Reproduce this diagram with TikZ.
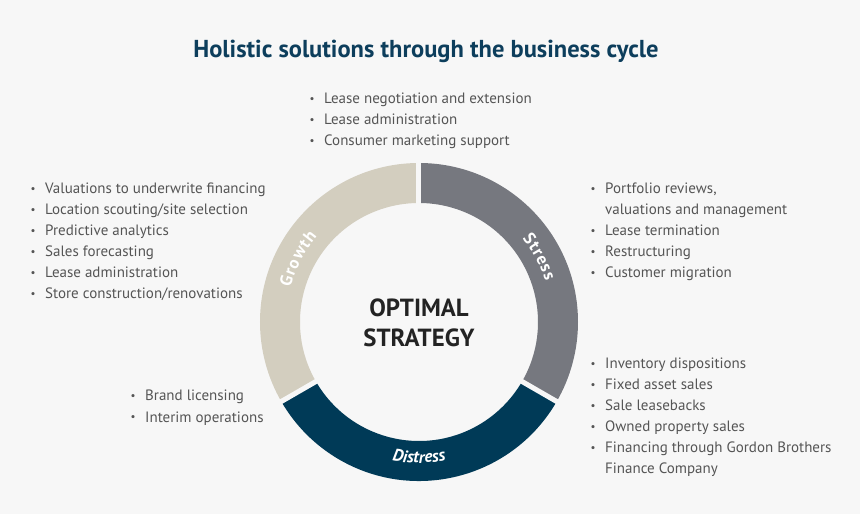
\documentclass[tikz,border=0pt]{standalone}
\usepackage{fontspec}
\setmainfont{PT Sans}
\usetikzlibrary{decorations.text}
\definecolor{bgcol}{HTML}{F7F7F7}
\definecolor{titlecol}{HTML}{0D3E5C}
\definecolor{textcol}{HTML}{555555}
\definecolor{growthcol}{HTML}{D3CEBF}
\definecolor{stresscol}{HTML}{76787F}
\definecolor{distresscol}{HTML}{003A57}
\definecolor{centercol}{HTML}{232323}
\newcommand{\bul}{\makebox[0pt]{\raisebox{.2ex}{\fontsize{11}{11}\selectfont\textbullet}}\hspace{12pt}}
\newcommand{\cont}{\hspace{12pt}}
\begin{document}
\begin{tikzpicture}[
    x=1pt, y=1pt,
    itemlist/.style={anchor=base west, inner sep=0pt, text=textcol, font=\fontsize{15}{21}\selectfont},
    ringlabel/.style={decorate, decoration={text along path, text align=center, text color=white}},
    gap/.style={draw=bgcol, line width=5pt}
]
\fill[bgcol] (-419,-192) rectangle (441,322);
\useasboundingbox (-419,-192) rectangle (441,322);
% Title
\node[anchor=base, inner sep=0pt, text=titlecol, font=\fontsize{24.5}{28}\selectfont\bfseries] (title) at (7,264.3) {Holistic solutions through the business cycle};
% Ring segments
\fill[growthcol] (90:159pt) arc[start angle=90, end angle=210, radius=159pt] -- (210:119pt) arc[start angle=210, end angle=90, radius=119pt] -- cycle;
\fill[stresscol] (90:159pt) arc[start angle=90, end angle=-30, radius=159pt] -- (-30:119pt) arc[start angle=-30, end angle=90, radius=119pt] -- cycle;
\fill[distresscol] (-30:159pt) arc[start angle=-30, end angle=-150, radius=159pt] -- (-150:119pt) arc[start angle=-150, end angle=-30, radius=119pt] -- cycle;
\foreach \a in {90,-30,210}
    \draw[gap] (\a:110pt) -- (\a:168pt);
% Ring labels
\path[ringlabel, decoration={text={|\fontsize{17}{17}\selectfont\bfseries|G{\kern1pt}r{\kern1pt}o{\kern1pt}w{\kern1pt}t{\kern1pt}h}}] (185:133pt) arc[start angle=185, end angle=120, radius=133pt];
\path[ringlabel, decoration={text={|\fontsize{17}{17}\selectfont\bfseries|S{\kern1pt}t{\kern1pt}r{\kern1pt}e{\kern1pt}s{\kern1pt}s}}] (61:133pt) arc[start angle=61, end angle=-4, radius=133pt];
\path[ringlabel, decoration={text={|\fontsize{17}{17}\selectfont\bfseries\itshape|Distress}}] (240:141pt) arc[start angle=240, end angle=300, radius=141pt];
% Centre
\node[anchor=base, inner sep=0pt, text=centercol, font=\fontsize{24.8}{30}\selectfont\bfseries] (optimal) at (0,5.3) {OPTIMAL};
\node[anchor=base, inner sep=0pt, text=centercol, font=\fontsize{24.8}{30}\selectfont\bfseries] (strategy) at (0,-24.7) {STRATEGY};
% Service lists
\node[itemlist] (toplist) at (-107,218) {\begin{tabular}[t]{@{}l@{}}
\bul Lease negotiation and extension\\
\bul Lease administration\\
\bul Consumer marketing support
\end{tabular}};
\node[itemlist] (growthlist) at (-386,128) {\begin{tabular}[t]{@{}l@{}}
\bul Valuations to underwrite financing\\
\bul Location scouting/site selection\\
\bul Predictive analytics\\
\bul Sales forecasting\\
\bul Lease administration\\
\bul Store construction/renovations
\end{tabular}};
\node[itemlist] (stresslist) at (174,128) {\begin{tabular}[t]{@{}l@{}}
\bul Portfolio reviews,\\
\cont valuations and management\\
\bul Lease termination\\
\bul Restructuring\\
\bul Customer migration
\end{tabular}};
\node[itemlist] (distresslist) at (174,-47) {\begin{tabular}[t]{@{}l@{}}
\bul Inventory dispositions\\
\bul Fixed asset sales\\
\bul Sale leasebacks\\
\bul Owned property sales\\
\bul Financing through Gordon Brothers\\
\cont Finance Company
\end{tabular}};
\node[itemlist] (bottomlist) at (-286,-79) {\begin{tabular}[t]{@{}l@{}}
\bul Brand licensing\\
\bul Interim operations
\end{tabular}};
\end{tikzpicture}
\end{document}
